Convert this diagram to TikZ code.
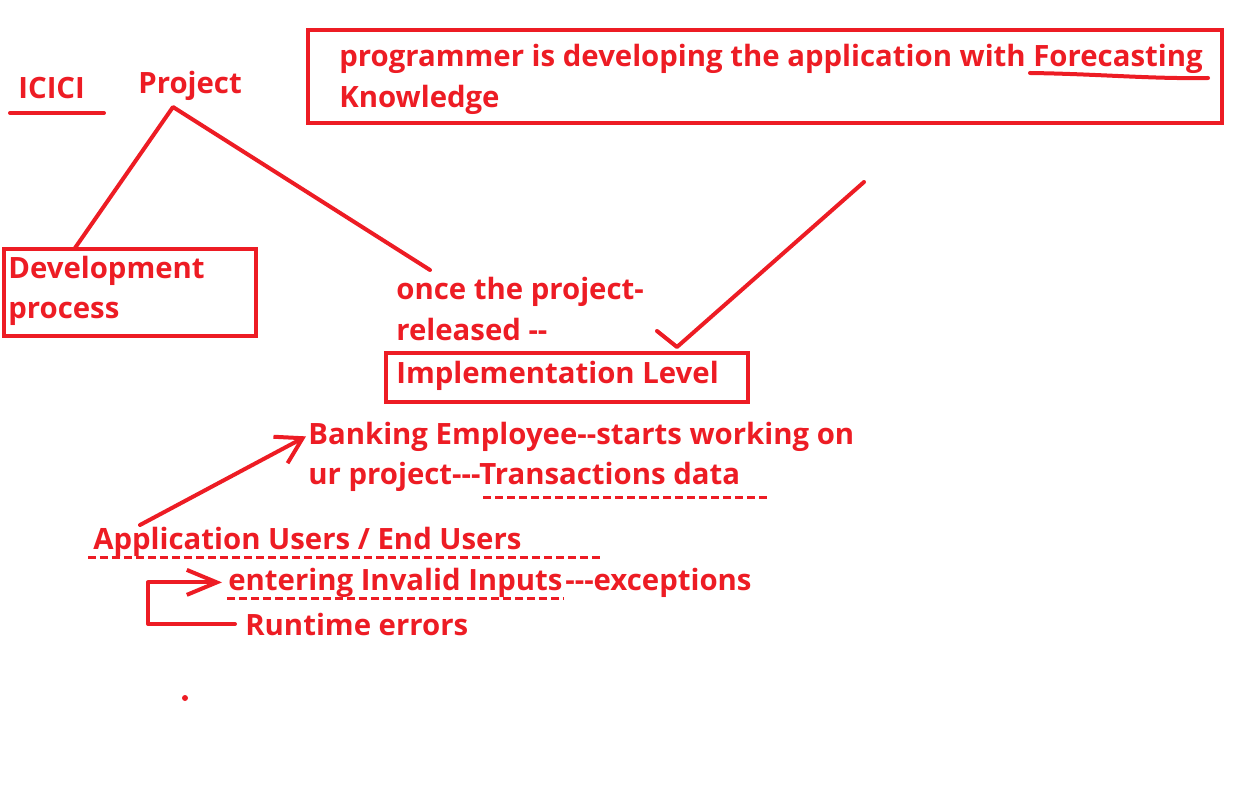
\documentclass[tikz,border=0pt]{standalone}
\usepackage{fontspec}
\newfontfamily\scrawlfont{Open Sans}
\usetikzlibrary{arrows.meta}
\definecolor{paintred}{HTML}{ED1C24}
\def\tlist{{(18,99)/icici/ICICI}, {(138,94)/project/Project}, {(339,67)/prog/programmer is developing the application with Forecasting}, {(339,108)/know/Knowledge}, {(8,279)/dev/Development}, {(8,319)/proc/process}, {(396,300)/once/once the project-}, {(396,341)/rel/released --}, {(396,384)/impl/Implementation Level}, {(308,444)/bank/Banking Employee--starts working on}, {(308,484)/urproj/ur project---Transactions data}, {(93,549)/users/{Application Users / End Users}}, {(228,590)/invalid/entering Invalid Inputs}, {(565,590)/exc/---exceptions}, {(245,635)/runtime/Runtime errors}}
\tikzstyle{pen}=[draw=paintred, line width=0.08cm, line cap=round, line join=round]
\tikzstyle{frame}=[draw=paintred, line width=0.08cm, inner sep=0pt, anchor=north west]
\tikzstyle{dashpen}=[draw=paintred, line width=0.06cm, dash pattern=on 0.16cm off 0.08cm]
\tikzstyle{scrawl}=[text=paintred, font=\scrawlfont\bfseries\fontsize{16.7}{20}\selectfont, anchor=base west, inner sep=0pt]
\tikzstyle{barb}=[-{Straight Barb[length=0.5cm, width=0.6cm]}]

\begin{document}
\begin{tikzpicture}[x=0.02cm, y=-0.02cm]
  \useasboundingbox (0,0) rectangle (1250,810);

  \foreach \pos/\name/\txt in \tlist {
    \node[scrawl] (\name) at \pos {\txt};
  }

  % boxes
  \node[frame, minimum width=18.28cm, minimum height=1.86cm] (progbox) at (306,28) {};
  \node[frame, minimum width=5.04cm, minimum height=1.74cm] (devbox) at (2,247) {};
  \node[frame, minimum width=7.24cm, minimum height=0.98cm] (implbox) at (384,351) {};

  % project tree
  \coordinate (apex) at (173,107);
  \coordinate (devtop) at (75,248);
  \coordinate (onceend) at (430,270);
  \path[pen] (devtop) -- (apex) -- (onceend);

  % down to implementation level
  \coordinate (vstart) at (864,182);
  \coordinate (vtip) at (677,347);
  \coordinate (vbarb) at (657,331);
  \path[pen] (vstart) -- (vtip) -- (vbarb);

  % users
  \coordinate (userstail) at (140,525);
  \path[pen, barb] (userstail) -- ([xshift=-0.04cm]bank.west);
  \path[pen, -{Straight Barb[length=0.6cm, width=0.5cm]}]
    ([xshift=-0.2cm]runtime.west) -| ([xshift=-1.6cm]invalid.west) -- ([xshift=-0.12cm]invalid.west);

  % underlines
  \path[pen] (10,113) -- (104,113);
  \path[pen] (1030,73) .. controls (1100,74) and (1150,79) .. (1208,78);
  \path[dashpen] (483,497) -- (767,497);
  \path[dashpen] (88,557) -- (603,557);
  \path[dashpen] (227,598) -- (563,598);

  \fill[paintred] (185,698) circle (0.06cm);
\end{tikzpicture}
\end{document}
